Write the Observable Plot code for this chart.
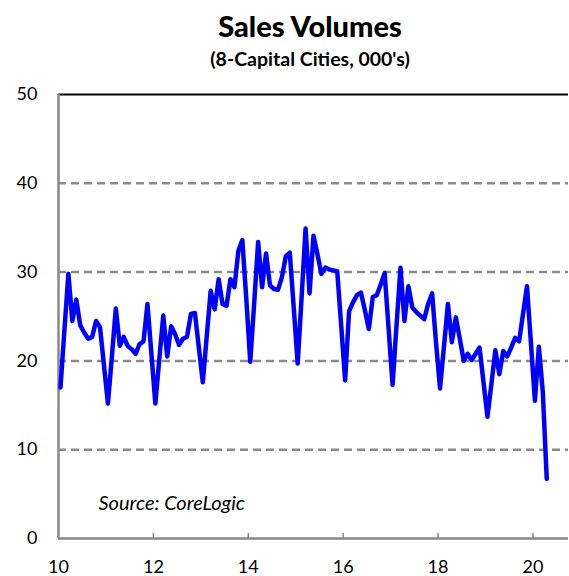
<!DOCTYPE html>
<html><head><meta charset="utf-8">
<script src="https://cdn.jsdelivr.net/npm/d3@7"></script>
<script src="https://cdn.jsdelivr.net/npm/@observablehq/plot@0.6"></script>
<style>
html,body{margin:0;padding:0;background:#fff;overflow:hidden;}
#wrap{width:569px;height:576px;position:relative;font-family:Lato,sans-serif;color:#000;}
#title{position:absolute;left:51px;width:518px;top:11px;text-align:center;font-weight:900;font-size:29px;line-height:1;}
#subtitle{position:absolute;left:51px;width:518px;top:49px;text-align:center;font-weight:bold;font-size:19.5px;line-height:1;}
#chart{position:absolute;left:0;top:80px;}
</style>
</head><body>
<div id="wrap">
  <div id="title">Sales Volumes</div>
  <div id="subtitle">(8-Capital Cities, 000's)</div>
  <div id="chart"></div>
</div>
<script>
const startYear = 10; // Jan 2010, monthly points
const volumes = [
  17.0, 23.5, 29.8, 24.5, 26.9, 24.0, 23.2, 22.5, 22.7, 24.5, 23.8, 19.5,
  15.2, 20.5, 25.9, 21.7, 22.7, 21.7, 21.3, 20.8, 21.9, 22.2, 26.4, 20.8,
  15.2, 20.2, 25.1, 20.5, 23.9, 23.0, 21.8, 22.5, 22.7, 25.3, 25.4, 21.5,
  17.6, 22.8, 27.9, 25.8, 29.2, 26.4, 26.2, 29.2, 28.3, 32.4, 33.6, 27.0,
  19.9, 26.5, 33.4, 28.3, 32.1, 28.5, 28.1, 28.0, 29.4, 31.8, 32.2, 26.0,
  19.7, 27.2, 34.9, 27.6, 34.1, 32.0, 29.8, 30.5, 30.3, 30.2, 30.1, 24.0,
  17.8, 25.6, 26.6, 27.4, 27.7, 25.7, 23.6, 27.2, 27.4, 28.6, 29.9, 23.6,
  17.3, 24.0, 30.5, 24.5, 28.4, 26.0, 25.5, 25.1, 24.7, 26.4, 27.6, 22.0,
  16.9, 21.6, 26.4, 22.1, 24.9, 22.5, 20.0, 20.8, 20.1, 20.8, 21.5, 17.6,
  13.7, 17.4, 21.2, 18.5, 21.1, 20.5, 21.5, 22.6, 22.2, 25.3, 28.4, 22.0,
  15.5, 21.6, 16.5, 6.7
];
const xTicks = [10, 12, 14, 16, 18, 20];
const yTicks = [0, 10, 20, 30, 40, 50];
const gridValues = [10, 20, 30, 40];
const sourceNote = ["Source: CoreLogic"];

const data = volumes.map((v, i) => ({x: startYear + (i + 0.5) / 12, v}));

const chart = Plot.plot({
  width: 569, height: 496,
  marginTop: 14, marginLeft: 58, marginRight: 1, marginBottom: 38,
  style: {fontFamily: "Lato, sans-serif", fontSize: "18px", color: "#000", background: "#fff", overflow: "visible"},
  x: {domain: [10, 20.75], label: null},
  y: {domain: [0, 50], label: null},
  marks: [
    Plot.ruleY(gridValues, {stroke: "#8a8a8a", strokeWidth: 2.5, strokeDasharray: "8,5"}),
    Plot.ruleY([50], {stroke: "#000", strokeWidth: 2}),
    Plot.tickX(xTicks.slice(1), {x: d => d, stroke: "#888", strokeWidth: 1.5, insetTop: 439}),
    Plot.ruleX([10], {stroke: "#888", strokeWidth: 2.5}),
    Plot.ruleY([0], {stroke: "#888", strokeWidth: 2.5}),
    Plot.line(data, {x: "x", y: "v", stroke: "#0000ff", strokeWidth: 4.5, strokeLinejoin: "round", strokeLinecap: "round"}),
    Plot.axisX(xTicks, {tickSize: 0, tickPadding: 22, tickFormat: d => String(d), label: null, fontSize: 18}),
    Plot.axisY(yTicks, {tickSize: 0, tickPadding: 21, tickFormat: d => String(d), label: null, fontSize: 18}),
    Plot.text(sourceNote, {frameAnchor: "bottom-left", dx: 40, dy: -29, textAnchor: "start", lineAnchor: "bottom", fontStyle: "italic", fontSize: 20, fill: "#000"})
  ]
});
document.getElementById("chart").appendChild(chart);
</script>
</body></html>
